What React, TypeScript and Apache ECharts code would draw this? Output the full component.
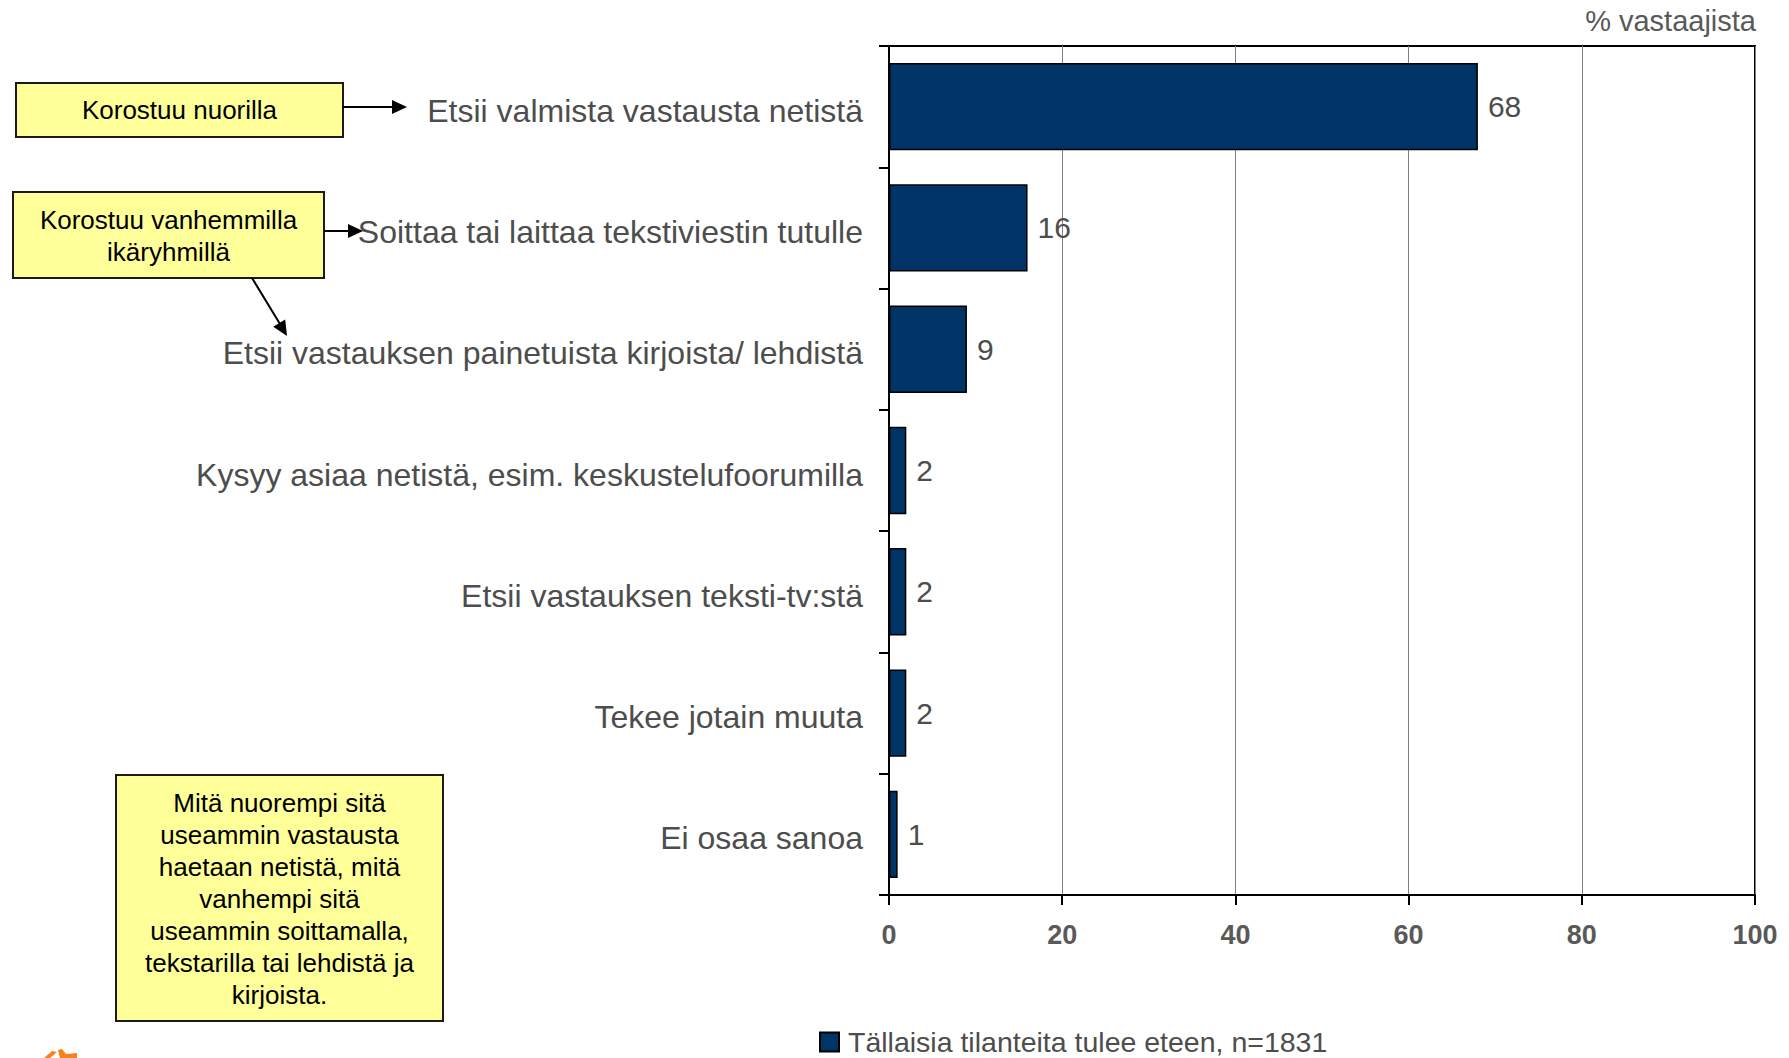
import React, { useEffect, useRef } from "react";
import * as echarts from "echarts";

const categories = [
  "Etsii valmista vastausta netistä",
  "Soittaa tai laittaa tekstiviestin tutulle",
  "Etsii vastauksen painetuista kirjoista/ lehdistä",
  "Kysyy asiaa netistä, esim. keskustelufoorumilla",
  "Etsii vastauksen teksti-tv:stä",
  "Tekee jotain muuta",
  "Ei osaa sanoa",
];
const values = [68, 16, 9, 2, 2, 2, 1];
const seriesName = "Tällaisia tilanteita tulee eteen, n=1831";
const xTicks = [0, 20, 40, 60, 80, 100];
const unitLabel = "% vastaajista";
const note1 = "Korostuu nuorilla";
const note2 = "Korostuu vanhemmilla\nikäryhmillä";
const note3 =
  "Mitä nuorempi sitä\nuseammin vastausta\nhaetaan netistä, mitä\nvanhempi sitä\nuseammin soittamalla,\ntekstarilla tai lehdistä ja\nkirjoista.";

const FONT = "'Liberation Sans', Arial, sans-serif";
const GRAY = "#4d4d4d";

function box(x: number, y: number, w: number, h: number) {
  return {
    type: "rect",
    shape: { x, y, width: w, height: h },
    style: { fill: "#ffff99", stroke: "#1a1a1a", lineWidth: 2 },
    z: 10,
  };
}
function label(x: number, y: number, text: string) {
  return {
    type: "text",
    x,
    y,
    z: 11,
    style: {
      text,
      fill: "#000",
      font: `26px ${FONT}`,
      align: "center",
      verticalAlign: "middle",
      lineHeight: 32,
    },
  };
}
function line(x1: number, y1: number, x2: number, y2: number) {
  return {
    type: "line",
    shape: { x1, y1, x2, y2 },
    style: { stroke: "#000", lineWidth: 2 },
    z: 10,
  };
}
function tri(points: number[][]) {
  return { type: "polygon", shape: { points }, style: { fill: "#000" }, z: 10 };
}

export default function App() {
  const ref = useRef<HTMLDivElement>(null);
  useEffect(() => {
    if (!ref.current) return;
    const chart = echarts.init(ref.current, null, { renderer: "svg" });
    chart.setOption({
      animation: false,
      backgroundColor: "#fff",
      textStyle: { fontFamily: FONT },
      grid: {
        left: 889,
        top: 46,
        right: 34,
        bottom: 163,
        show: true,
        borderColor: "#000",
        borderWidth: 2,
      },
      legend: {
        left: 819,
        top: 1027,
        padding: 0,
        icon: "rect",
        itemWidth: 19,
        itemHeight: 19,
        textStyle: {
          fontSize: 28.5,
          lineHeight: 30,
          color: GRAY,
          fontFamily: FONT,
          padding: [0, 0, 0, 4],
        },
        data: [seriesName],
      },
      xAxis: {
        type: "value",
        min: xTicks[0],
        max: xTicks[xTicks.length - 1],
        interval: 20,
        axisLine: { show: true, lineStyle: { color: "#000", width: 2 } },
        axisTick: { show: true, length: 10, lineStyle: { color: "#000", width: 2 } },
        axisLabel: {
          fontSize: 27,
          fontWeight: "bold",
          color: "#595959",
          margin: 26,
          fontFamily: FONT,
        },
        splitLine: { show: true, lineStyle: { color: "#808080", width: 1 } },
      },
      yAxis: {
        type: "category",
        inverse: true,
        data: categories,
        axisLine: { show: true, lineStyle: { color: "#000", width: 2 } },
        axisTick: { show: true, length: 10, lineStyle: { color: "#000", width: 2 } },
        axisLabel: {
          margin: 26,
          formatter: (v: string) => `{a|${v}}`,
          rich: {
            a: {
              fontSize: 32,
              color: GRAY,
              fontFamily: FONT,
              padding: [8, 0, 0, 0],
            },
          },
        },
      },
      series: [
        {
          name: seriesName,
          type: "bar",
          data: values,
          barCategoryGap: "28%",
          itemStyle: { color: "#003366", borderColor: "#000", borderWidth: 1.5 },
          label: {
            show: true,
            position: "right",
            distance: 10,
            fontSize: 30,
            color: GRAY,
            fontFamily: FONT,
          },
        },
      ],
      graphic: [
        {
          type: "text",
          right: 33,
          top: 6,
          style: { text: unitLabel, font: `29px ${FONT}`, fill: "#595959" },
        },
        box(16, 83, 327, 54),
        label(179.5, 110, note1),
        line(343, 107, 393, 107),
        tri([[392, 100], [392, 114], [407, 107]]),
        box(13, 192, 311, 86),
        label(168.5, 236, note2),
        line(324, 231, 349, 231),
        tri([[348, 224], [348, 238], [363, 231]]),
        line(252, 278, 280, 324),
        tri([[287, 336], [273.2, 326.7], [285.2, 319.5]]),
        box(116, 775, 327, 246),
        label(279.5, 899, note3),
        {
          type: "polygon",
          shape: { points: [[44, 1058], [52, 1051], [57, 1052], [50, 1058]] },
          style: { fill: "#f58220" },
        },
        {
          type: "polygon",
          shape: { points: [[58, 1050], [62, 1049], [66, 1054], [77, 1053], [77, 1058], [60, 1058]] },
          style: { fill: "#f58220" },
        },
      ],
    });
    return () => chart.dispose();
  }, []);
  return (
    <div
      ref={ref}
      style={{ position: "absolute", left: 0, top: 0, width: 1789, height: 1058 }}
    />
  );
}
